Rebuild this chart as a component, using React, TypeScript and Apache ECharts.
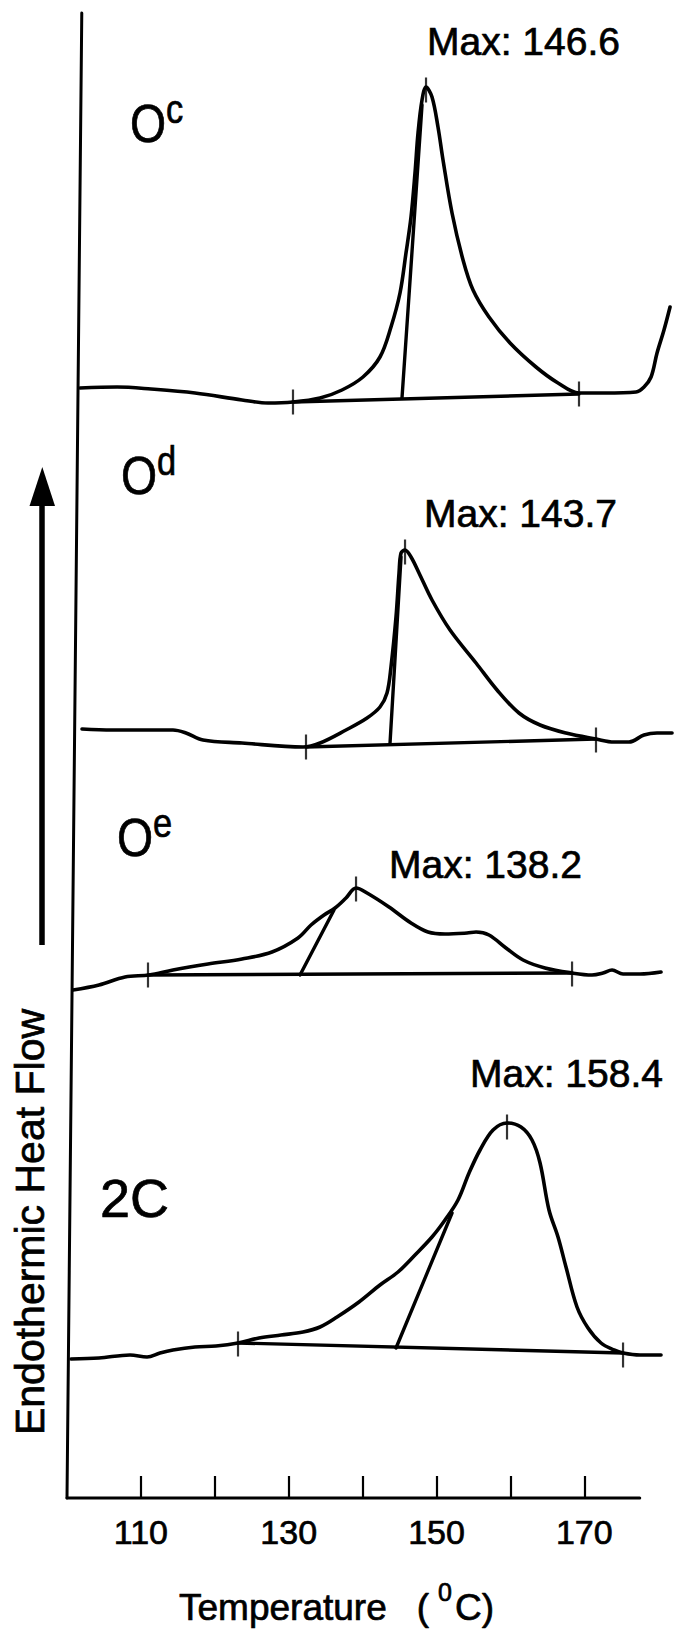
import React, { useEffect, useRef } from "react";
import * as echarts from "echarts";

const FONT = '"Liberation Sans", Arial, Helvetica, sans-serif';
const INK = "#000";
const TEXT_STROKE = 0.7;

// ---- axes ----
const tempMin = 100;
const tempMax = 182;
const flowMax = 1485;
const tickValues = [110, 120, 130, 140, 150, 160, 170];
const tickLabelValues = [110, 130, 150, 170];
const xAxisLineT = [100, 177.5];
const xAxisLineF = [0, 0];
const yAxisLineT = [100, 102];
const yAxisLineF = [0, 1485];

// ---- O^c ----
const ocTemp = [101.76, 106.77, 111.37, 117.32, 123.68, 127.2, 130.58, 134.24, 137.21, 140.05, 142.35, 143.84, 145.06, 145.87, 146.55, 147.09, 147.5, 148.04, 148.58, 149.39, 150.2, 150.88, 152.1, 153.59, 154.94, 157.1, 159.95, 163.46, 166.44, 169.28, 172.8, 177.0, 178.08, 179.03, 179.84, 180.78, 181.6];
const ocFlow = [1110, 1111, 1109, 1105, 1098, 1095, 1096, 1100, 1108, 1121, 1141, 1171, 1205, 1245, 1281, 1325, 1365, 1398, 1411, 1401, 1371, 1338, 1285, 1238, 1208, 1181, 1155, 1131, 1115, 1105, 1105, 1106, 1111, 1121, 1145, 1168, 1191];
const ocBaseT = [130.58, 169.28];
const ocBaseF = [1096, 1104];
const ocTanT = [145.33, 148.04];
const ocTanF = [1100, 1393];
const ocMarkT = [130.58, 148.58, 169.28];
const ocMarkF = [1096, 1408, 1104];

// ---- O^d ----
const odTemp = [102.03, 106.09, 110.28, 114.34, 116.1, 118.4, 123.68, 131.94, 134.24, 137.75, 140.6, 142.35, 143.3, 143.84, 144.52, 144.93, 145.2, 145.74, 146.55, 147.63, 149.39, 151.83, 155.35, 158.19, 161.16, 164.01, 167.52, 171.58, 174.02, 176.05, 178.08, 179.84, 181.87];
const odFlow = [769, 768, 768, 768, 765, 758, 755, 751, 755, 768, 780, 791, 805, 831, 881, 925, 945, 948, 941, 925, 898, 868, 835, 808, 785, 773, 765, 759, 756, 756, 763, 765, 765];
const odBaseT = [132.34, 171.58];
const odBaseF = [751, 759];
const odTanT = [143.71, 145.2];
const odTanF = [755, 941];
const odMarkT = [132.34, 145.74, 171.58];
const odMarkF = [751, 946, 758];

// ---- O^e ----
const oeTemp = [100.81, 104.33, 107.85, 111.1, 114.34, 119.08, 123.68, 127.74, 131.26, 133.02, 134.78, 136.27, 137.75, 139.11, 140.6, 143.57, 146.55, 148.85, 151.15, 154.13, 155.35, 157.1, 159.4, 161.71, 164.68, 168.34, 171.04, 172.53, 173.75, 175.24, 177.54, 180.38];
const oeFlow = [508, 513, 521, 523, 528, 534, 539, 546, 560, 573, 583, 590, 600, 610, 605, 591, 575, 566, 564, 565, 566, 563, 550, 538, 530, 525, 523, 525, 528, 524, 524, 526];
const oeBaseT = [110.96, 168.34];
const oeBaseF = [523, 525];
const oeTanT = [131.53, 136.13];
const oeTanF = [523, 588];
const oeMarkT = [110.96, 139.11, 168.34];
const oeMarkF = [523, 609, 524];

// ---- 2C ----
const tcTemp = [100.54, 104.33, 108.53, 110.83, 112.58, 114.34, 117.32, 120.16, 123.14, 125.98, 128.96, 131.94, 134.24, 136.54, 139.51, 142.35, 144.79, 147.09, 149.39, 151.15, 152.91, 154.4, 155.89, 157.65, 159.54, 161.43, 162.92, 164.01, 165.22, 166.44, 167.52, 169.01, 170.5, 172.26, 174.02, 175.24, 177.54, 180.38];
const tcFlow = [139, 140, 143, 141, 145, 148, 151, 152, 155, 160, 163, 166, 171, 181, 196, 213, 226, 243, 261, 278, 298, 325, 348, 368, 375, 371, 358, 335, 288, 261, 231, 191, 170, 155, 148, 145, 143, 143];
const tcBaseT = [123.14, 175.24];
const tcBaseF = [155, 145];
const tcTanT = [144.52, 152.1];
const tcTanF = [150, 285];
const tcMarkT = [123.14, 159.54, 175.24];
const tcMarkF = [154, 371, 143];

const pairs = (t: number[], f: number[]) => t.map((v, i) => [v, f[i]]);

const lineSeries = (name: string, t: number[], f: number[], width: number, smooth: number | boolean) => ({
  type: "line",
  name,
  data: pairs(t, f),
  symbol: "none",
  showSymbol: false,
  smooth,
  clip: false,
  silent: true,
  lineStyle: { color: INK, width, cap: "round", join: "round" },
});

const markSeries = (name: string, t: number[], f: number[]) => ({
  type: "scatter",
  name,
  data: pairs(t, f),
  symbol: "rect",
  symbolSize: [2.2, 25],
  itemStyle: { color: INK },
  silent: true,
  clip: false,
  z: 3,
});

const textStyleBase = (fs: number) => ({
  fontSize: fs,
  fontFamily: FONT,
  fill: INK,
  stroke: INK,
  lineWidth: TEXT_STROKE,
});

const plainText = (text: string, left: number, baseline: number, fs: number) => ({
  type: "text",
  x: left,
  y: baseline - 0.3465 * fs,
  silent: true,
  style: { text, ...textStyleBase(fs), align: "left", verticalAlign: "middle" },
});

const supLabel = (main: string, sup: string, left: number, baseline: number, scaleX: number) => ({
  type: "text",
  x: left,
  y: baseline - 52.7,
  scaleX,
  silent: true,
  style: {
    text: `{a|${main}}{b|${sup}}`,
    fill: INK,
    stroke: INK,
    lineWidth: TEXT_STROKE,
    align: "left",
    verticalAlign: "top",
    rich: {
      a: { ...textStyleBase(54), lineHeight: 68 },
      b: { ...textStyleBase(40), lineHeight: 34, verticalAlign: "top" },
    },
  },
});

export default function App() {
  const ref = useRef<HTMLDivElement>(null);
  useEffect(() => {
    if (!ref.current) return;
    const chart = echarts.init(ref.current, undefined, { renderer: "svg" });
    const option: any = {
      animation: false,
      backgroundColor: "#fff",
      grid: { left: 67, right: 2, top: 13, bottom: 134, containLabel: false },
      xAxis: {
        type: "value",
        min: tempMin,
        max: tempMax,
        interval: 10,
        axisLine: { show: false },
        splitLine: { show: false },
        axisTick: {
          show: true,
          inside: true,
          length: 22,
          customValues: tickValues,
          lineStyle: { color: INK, width: 2.2 },
        },
        axisLabel: {
          show: true,
          customValues: tickLabelValues,
          fontSize: 34,
          fontFamily: FONT,
          color: INK,
          textBorderColor: INK,
          textBorderWidth: TEXT_STROKE,
          margin: 17,
        },
      },
      yAxis: { type: "value", min: 0, max: flowMax, show: false },
      series: [
        lineSeries("xAxisLine", xAxisLineT, xAxisLineF, 3, false),
        lineSeries("yAxisLine", yAxisLineT, yAxisLineF, 3, false),
        lineSeries("Oc", ocTemp, ocFlow, 3.6, 0.35),
        lineSeries("Oc baseline", ocBaseT, ocBaseF, 3.4, false),
        lineSeries("Oc onset", ocTanT, ocTanF, 3.4, false),
        markSeries("Oc marks", ocMarkT, ocMarkF),
        lineSeries("Od", odTemp, odFlow, 3.6, 0.35),
        lineSeries("Od baseline", odBaseT, odBaseF, 3.4, false),
        lineSeries("Od onset", odTanT, odTanF, 3.4, false),
        markSeries("Od marks", odMarkT, odMarkF),
        lineSeries("Oe", oeTemp, oeFlow, 3.6, 0.35),
        lineSeries("Oe baseline", oeBaseT, oeBaseF, 3.4, false),
        lineSeries("Oe onset", oeTanT, oeTanF, 3.4, false),
        markSeries("Oe marks", oeMarkT, oeMarkF),
        lineSeries("2C", tcTemp, tcFlow, 3.6, 0.35),
        lineSeries("2C baseline", tcBaseT, tcBaseF, 3.4, false),
        lineSeries("2C onset", tcTanT, tcTanF, 3.4, false),
        markSeries("2C marks", tcMarkT, tcMarkF),
      ],
      graphic: [
        { type: "line", silent: true, shape: { x1: 42, y1: 945, x2: 42, y2: 500 }, style: { stroke: INK, lineWidth: 5.5 } },
        { type: "polygon", silent: true, shape: { points: [[29.5, 506], [55, 506], [42.3, 467]] }, style: { fill: INK } },
        {
          type: "text",
          x: 29.5,
          y: 1222,
          rotation: Math.PI / 2,
          silent: true,
          style: { text: "Endothermic Heat Flow", ...textStyleBase(41), align: "center", verticalAlign: "middle" },
        },
        {
          type: "text",
          x: 179,
          y: 1579,
          silent: true,
          style: {
            text: "{a|Temperature}{b|(}{c|0}{d|C)}",
            fill: INK,
            stroke: INK,
            lineWidth: TEXT_STROKE,
            align: "left",
            verticalAlign: "top",
            rich: {
              a: { ...textStyleBase(37), lineHeight: 56 },
              b: { ...textStyleBase(37), lineHeight: 56, padding: [0, 0, 0, 30] },
              c: { ...textStyleBase(25), lineHeight: 24, verticalAlign: "top", padding: [0, 0, 0, 9] },
              d: { ...textStyleBase(37), lineHeight: 56, padding: [0, 0, 0, 3] },
            },
          },
        },
        plainText("Max: 146.6", 427, 55, 39),
        plainText("Max: 143.7", 424, 527, 39),
        plainText("Max: 138.2", 389, 878, 39),
        plainText("Max: 158.4", 470, 1087, 39),
        supLabel("O", "c", 130, 142, 0.86),
        supLabel("O", "d", 121, 494, 0.86),
        supLabel("O", "e", 117, 856, 0.86),
        plainText("2C", 100, 1217, 54),
      ],
    };
    chart.setOption(option);
    return () => chart.dispose();
  }, []);
  return (
    <div
      ref={ref}
      style={{ position: "absolute", left: 0, top: 0, width: 675, height: 1632, background: "#fff" }}
    />
  );
}
